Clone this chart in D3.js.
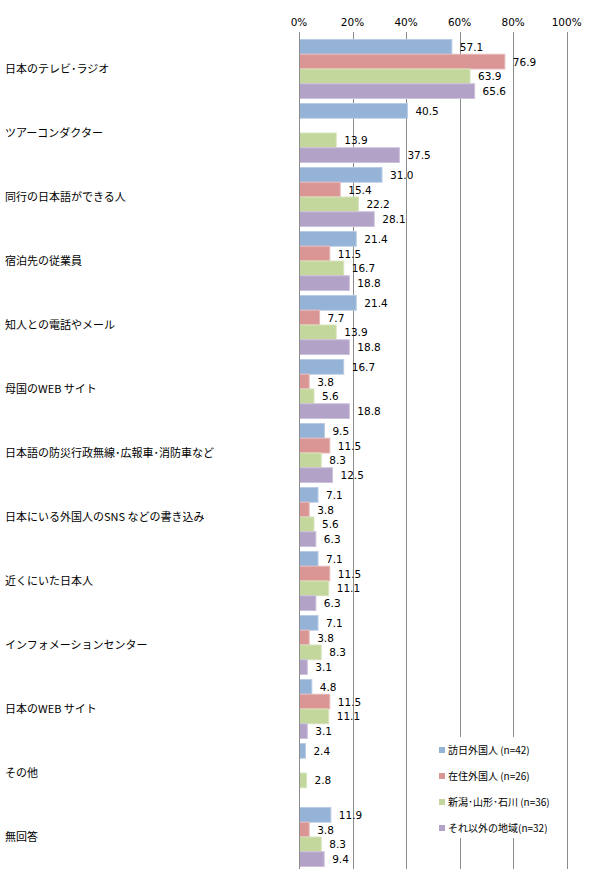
<!DOCTYPE html>
<html>
<head>
<meta charset="utf-8">
<script src="https://cdn.jsdelivr.net/npm/d3@7"></script>
<style>
  body { margin: 0; background: #fff; }
</style>
</head>
<body>
<div id="chart"></div>
<script>
// data
const categories = [
    "日本のテレビ･ラジオ",
    "ツアーコンダクター",
    "同行の日本語ができる人",
    "宿泊先の従業員",
    "知人との電話やメール",
    "母国のWEB サイト",
    "日本語の防災行政無線･広報車･消防車など",
    "日本にいる外国人のSNS などの書き込み",
    "近くにいた日本人",
    "インフォメーションセンター",
    "日本のWEB サイト",
    "その他",
    "無回答"
];
const seriesNames = ["訪日外国人 (n=42)", "在住外国人 (n=26)", "新潟･山形･石川 (n=36)", "それ以外の地域(n=32)"];
const visitors  = [57.1, 40.5, 31.0, 21.4, 21.4, 16.7, 9.5, 7.1, 7.1, 7.1, 4.8, 2.4, 11.9];
const residents = [76.9, null, 15.4, 11.5, 7.7, 3.8, 11.5, 3.8, 11.5, 3.8, 11.5, null, 3.8];
const niigata   = [63.9, 13.9, 22.2, 16.7, 13.9, 5.6, 8.3, 5.6, 11.1, 8.3, 11.1, 2.8, 8.3];
const otherArea = [65.6, 37.5, 28.1, 18.8, 18.8, 18.8, 12.5, 6.3, 6.3, 3.1, 3.1, null, 9.4];
const tickValues = [0, 20, 40, 60, 80, 100];

const colors = ["#95B3D7", "#D99694", "#C3D69B", "#B3A2C7"];
const strokes = ["#B9CCE4", "#E6B9B8", "#D7E4BD", "#CCC1DA"];

const width = 600, height = 872;
const svg = d3.select("#chart").append("svg")
    .attr("width", width).attr("height", height)
    .style("font-family", "'DejaVu Sans', sans-serif");

const x = d3.scaleLinear().domain([0, 100]).range([299, 566.7]);
const y = d3.scaleBand().domain(categories).range([37, 869])
    .paddingInner(0.078).paddingOuter(0.039);
const ySub = d3.scaleBand().domain(d3.range(4)).range([0, y.bandwidth()]);

const allSeries = [visitors, residents, niigata, otherArea];
const rows = [];
categories.forEach((c, i) => {
    allSeries.forEach((s, k) => {
        if (s[i] != null) rows.push({ cat: c, k: k, v: s[i] });
    });
});

// gridlines + tick labels
svg.append("g").selectAll("line")
    .data(tickValues).join("line")
    .attr("x1", d => Math.round(x(d)) + 0.5).attr("x2", d => Math.round(x(d)) + 0.5)
    .attr("y1", 32).attr("y2", 869)
    .attr("stroke", "#8C8C8C").attr("stroke-width", 1);

svg.append("g").selectAll("text")
    .data(tickValues).join("text")
    .attr("x", d => x(d)).attr("y", 26)
    .attr("text-anchor", "middle")
    .style("font-size", "10.5px").style("fill", "#000")
    .text(d => d + "%");

// bars
svg.append("g").selectAll("rect")
    .data(rows).join("rect")
    .attr("x", x(0) + 0.5)
    .attr("y", d => y(d.cat) + ySub(d.k))
    .attr("width", d => Math.max(0, x(d.v) - x(0) - 0.5))
    .attr("height", ySub.bandwidth())
    .attr("fill", d => colors[d.k])
    .attr("stroke", d => strokes[d.k])
    .attr("stroke-width", 1);

// value labels
svg.append("g").selectAll("text")
    .data(rows).join("text")
    .attr("x", d => x(d.v) + 8)
    .attr("y", d => y(d.cat) + ySub(d.k) + ySub.bandwidth() / 2 + 1)
    .attr("dominant-baseline", "middle")
    .style("font-size", "10.5px").style("fill", "#000")
    .text(d => d.v.toFixed(1));

// category labels
svg.append("g").selectAll("text")
    .data(categories).join("text")
    .attr("x", 5)
    .attr("y", d => y(d) + y.bandwidth() / 2 + 1)
    .attr("dominant-baseline", "middle")
    .style("font-family", "'Noto Sans CJK JP', sans-serif")
    .style("font-size", "11px").style("fill", "#000")
    .text(d => d);

// left axis line
svg.append("line")
    .attr("x1", 299.5).attr("x2", 299.5)
    .attr("y1", 37).attr("y2", 869)
    .attr("stroke", "#8C8C8C");

// legend (white box over the gridlines)
const legend = svg.append("g").attr("transform", "translate(432,737)");
legend.append("rect")
    .attr("width", 128).attr("height", 101)
    .attr("fill", "#fff");
const item = legend.selectAll("g")
    .data(seriesNames).join("g")
    .attr("transform", (d, i) => `translate(0,${13 + i * 26})`);
item.append("rect")
    .attr("x", 7).attr("y", -3)
    .attr("width", 6).attr("height", 6)
    .attr("fill", (d, i) => colors[i]);
item.append("text")
    .attr("x", 16).attr("y", 1)
    .attr("dominant-baseline", "middle")
    .style("font-family", "'Noto Sans CJK JP', sans-serif")
    .style("font-size", "10px").style("fill", "#000")
    .text(d => d);
</script>
</body>
</html>
